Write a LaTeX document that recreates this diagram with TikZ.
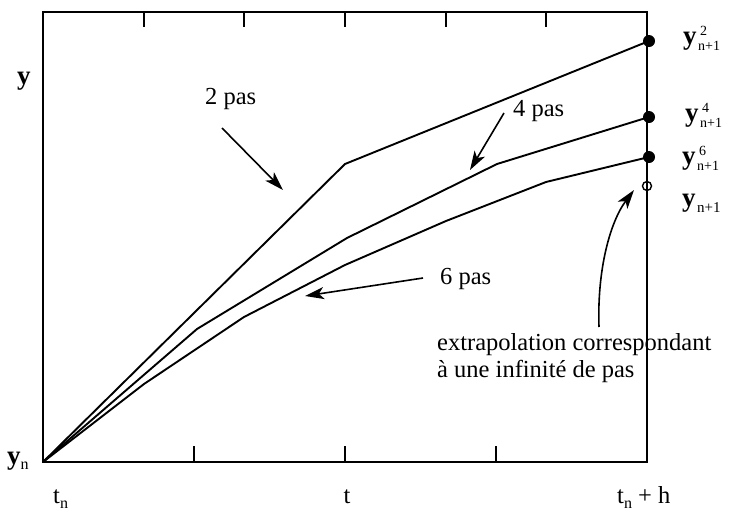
\documentclass[tikz,border=0pt]{standalone}
\usepackage{fontspec}
\setmainfont{Liberation Serif}
\usetikzlibrary{arrows.meta}
\newcommand{\by}{{\fontsize{27}{27}\selectfont\textbf{y}}}
\newcommand{\ylab}[2]{\by\kern1.5pt\raisebox{-6pt}{\fontsize{14}{15}\selectfont\begin{tabular}[b]{@{}l@{}}\kern2pt #1\\#2\end{tabular}}}
\begin{document}
\begin{tikzpicture}[x=1pt,y=-1pt,
  curve/.style={line width=1.9pt, line join=miter},
  axisline/.style={line width=2pt, line cap=rect},
  tick/.style={line width=1.8pt},
  lbl/.style={font=\fontsize{24.5}{27}\selectfont, inner sep=0pt},
  arr/.style={line width=1.6pt, -{Stealth[length=19pt,width=12pt,inset=5pt]}},
  dot/.style={circle, fill=black, inner sep=0pt, minimum size=12pt},
  odot/.style={circle, draw=black, line width=1.4pt, inner sep=0pt, minimum size=9pt}]
\useasboundingbox (0,0) rectangle (729,512);
% frame
\coordinate (bl) at (43,462);
\coordinate (br) at (647,462);
\coordinate (tl) at (43,12);
\coordinate (tr) at (647,12);
\draw[axisline] (tl) -- (bl) -- (br) -- (tr) -- cycle;
% bottom ticks
\foreach \i in {1,2,3} \draw[tick] (43+151*\i,462) -- (43+151*\i,446);
% top ticks
\foreach \i in {1,...,5} \draw[tick] (43+100.67*\i,12) -- (43+100.67*\i,27);
% end points
\node[dot] (p2) at (649,41) {};
\node[dot] (p4) at (649,117) {};
\node[dot] (p6) at (649,157) {};
\node[odot] (pinf) at (647,186) {};
% curves
\draw[curve] (bl) -- (345,164) -- (p2.center);
\draw[curve] (bl) -- (197,329) -- (347,238) -- (497,164) -- (p4.center);
\draw[curve] (bl) -- (144,384) -- (244,317) -- (345,265) -- (446,221) -- (546,182) -- (p6.center);
% axis labels
\node[lbl, anchor=base west] (ylabel) at (17,84) {\by};
\node[lbl, anchor=base west] (yn) at (7,464) {\by\raisebox{-5pt}{\fontsize{16}{16}\selectfont n}};
\node[lbl, anchor=base west] (tn) at (53,503) {t\raisebox{-5pt}{\fontsize{16}{16}\selectfont n}};
\node[lbl, anchor=base] (tmid) at (347,503) {t};
\node[lbl, anchor=base west] (tnh) at (617,503) {t\raisebox{-5pt}{\fontsize{16}{16}\selectfont n} + h};
% right labels
\node[lbl, anchor=base west] (l2) at (683,44) {\ylab{2}{n+1}};
\node[lbl, anchor=base west] (l4) at (685,121) {\ylab{4}{n+1}};
\node[lbl, anchor=base west] (l6) at (682,164) {\ylab{6}{n+1}};
\node[lbl, anchor=base west] (linf) at (682,206) {\by\kern1.5pt\raisebox{-6pt}{\fontsize{15}{15}\selectfont n+1}};
% step labels and arrows
\node[lbl, anchor=base west] (s2) at (205,104) {2 pas};
\node[lbl, anchor=base west] (s4) at (513,116) {4 pas};
\node[lbl, anchor=base west] (s6) at (440,284) {6 pas};
\coordinate (a2s) at (222,128);
\coordinate (a2e) at (283,190);
\coordinate (a4s) at (504,113);
\coordinate (a4e) at (470,170);
\coordinate (a6s) at (423,278);
\coordinate (a6e) at (305,296);
\draw[arr] (a2s) -- (a2e);
\draw[arr] (a4s) -- (a4e);
\draw[arr] (a6s) -- (a6e);
% extrapolation
\node[lbl, anchor=base west, align=left] (ext) at (437,377) {extrapolation correspondant\\à une infinité de pas};
\coordinate (aes) at (599,327);
\coordinate (aee) at (634,190);
\draw[arr] (aes) .. controls (597,270) and (610,222) .. (aee);
\end{tikzpicture}
\end{document}
